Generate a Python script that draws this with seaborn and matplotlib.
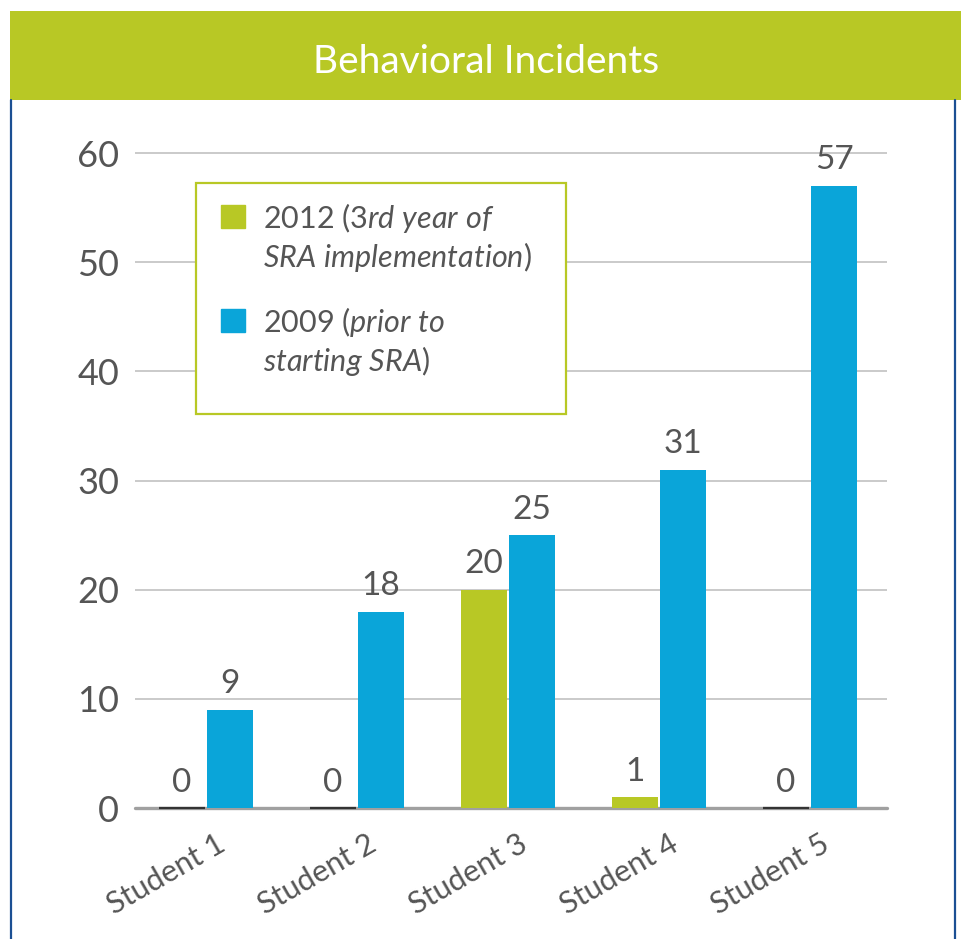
import matplotlib
matplotlib.use("Agg")
import matplotlib.pyplot as plt
import seaborn as sns
import pandas as pd
from matplotlib.patches import Rectangle
from matplotlib.lines import Line2D
from matplotlib.transforms import ScaledTranslation
from matplotlib.legend_handler import HandlerPatch

# ---------------- data ----------------
title = "Behavioral Incidents"
students = ["Student 1", "Student 2", "Student 3", "Student 4", "Student 5"]
years = ["2012", "2009"]
incidents_2012 = [0, 0, 20, 1, 0]
incidents_2009 = [9, 18, 25, 31, 57]
legend_labels = [
    "2012 $\\mathit{(3rd\\ year\\ of}$\n$\\mathit{SRA\\ implementation)}$",
    "2009 $\\mathit{(prior\\ to}$\n$\\mathit{starting\\ SRA)}$",
]
yticks = [0, 10, 20, 30, 40, 50, 60]

GREEN = "#b8c825"
BLUE = "#0aa5d9"
TEXT = "#555555"
NAVY = "#1b4f93"

df = pd.DataFrame({
    "student": students * 2,
    "year": [years[0]] * len(students) + [years[1]] * len(students),
    "value": incidents_2012 + incidents_2009,
})

sns.set_theme(style="white")
plt.rcParams["font.family"] = ["Lato", "DejaVu Sans"]
plt.rcParams["mathtext.fontset"] = "custom"
plt.rcParams["mathtext.rm"] = "Lato"
plt.rcParams["mathtext.it"] = "Lato:italic"

fig = plt.figure(figsize=(9.61, 9.39), dpi=100)
fig.patch.set_facecolor("white")

# header band and frame lines
fig.patches.append(Rectangle((10 / 961, (939 - 100) / 939), 951 / 961, 89 / 939,
                             transform=fig.transFigure, facecolor=GREEN,
                             edgecolor="none", zorder=0))
fig.lines.append(Line2D([11 / 961, 11 / 961], [0, (939 - 100) / 939],
                        transform=fig.transFigure, color=NAVY, lw=1.6))
fig.lines.append(Line2D([955 / 961, 955 / 961], [0, (939 - 100) / 939],
                        transform=fig.transFigure, color=NAVY, lw=1.6))
fig.text(486 / 961, (939 - 73) / 939, title, color="white", fontsize=28,
         ha="center", va="baseline")

ax = fig.add_axes([135 / 961, 131 / 939, 752 / 961, 665.9 / 939])

sns.barplot(data=df, x="student", y="value", hue="year",
            palette={years[0]: GREEN, years[1]: BLUE}, saturation=1,
            width=0.64, gap=0.06, legend=False, ax=ax, zorder=3)

ax.set_ylim(0, 61)
ax.set_xlim(-0.47, 4.51)
ax.set_yticks(yticks)
ax.set_xlabel("")
ax.set_ylabel("")
for s in ax.spines.values():
    s.set_visible(False)
ax.grid(axis="y", color="#c6c6c6", lw=1.3)
ax.set_axisbelow(True)
ax.axhline(0, color="#a0a0a0", lw=2.4, zorder=2, clip_on=False)

# zero-height bars are drawn as dark lines
for p in ax.patches:
    if p.get_height() == 0:
        p.set_edgecolor("#333333")
        p.set_linewidth(1.6)
        p.set_clip_on(False)
    else:
        p.set_linewidth(0)

for cont in ax.containers:
    ax.bar_label(cont, padding=7.5, fontsize=24, color=TEXT)

ax.tick_params(axis="both", length=0)
ax.tick_params(axis="y", pad=11.5, labelsize=26, labelcolor=TEXT)
ax.tick_params(axis="x", pad=4, labelsize=22, labelcolor=TEXT)
offset = ScaledTranslation(10 / 100, -16 / 100, fig.dpi_scale_trans)
for lab in ax.get_xticklabels():
    lab.set_rotation(30)
    lab.set_ha("right")
    lab.set_rotation_mode("anchor")
    lab.set_transform(lab.get_transform() + offset)

# legend box
ax.add_patch(Rectangle((0.0811, 0.5917), 0.492, 0.347, transform=ax.transAxes,
                       facecolor="white", edgecolor=GREEN, lw=1.6, zorder=4))


def top_square(legend, orig_handle, xdescent, ydescent, width, height, fontsize):
    side = width
    return Rectangle((-xdescent, -ydescent + height - side + 0.36 * fontsize),
                     side, side)


handles = [Rectangle((0, 0), 1, 1, color=GREEN), Rectangle((0, 0), 1, 1, color=BLUE)]
leg = ax.legend(handles, legend_labels, loc="upper left",
                bbox_to_anchor=(0.1144, 0.912), frameon=False, fontsize=22,
                handlelength=0.78, handleheight=2.0, handletextpad=0.6,
                labelspacing=1.0, borderpad=0, borderaxespad=0,
                handler_map={Rectangle: HandlerPatch(patch_func=top_square)})
leg.set_zorder(5)
for t in leg.get_texts():
    t.set_color(TEXT)

fig.savefig("out.png", dpi=100)
